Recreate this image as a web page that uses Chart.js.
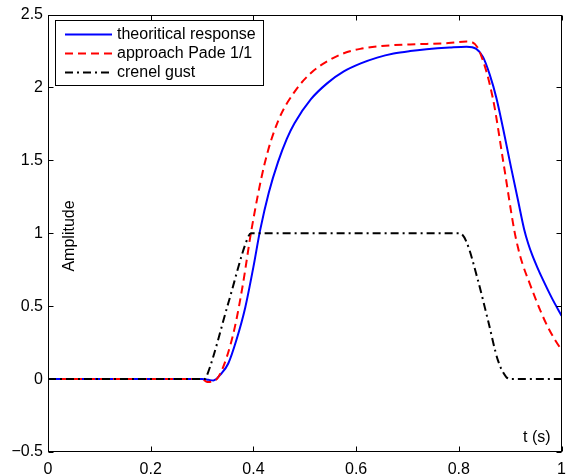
<!DOCTYPE html>
<html>
<head>
<meta charset="utf-8">
<script src="https://cdn.jsdelivr.net/npm/chart.js@4"></script>
<style>
  body { margin: 0; background: #fff; }
  canvas { display: block; }
</style>
</head>
<body>
<canvas id="c" width="574" height="474"></canvas>
<script>
    // values (t in seconds)
    const blueT = [0, 0.30, 0.312, 0.322, 0.338, 0.351, 0.367, 0.384, 0.40, 0.413, 0.43, 0.448, 0.465, 0.48, 0.512, 0.544, 0.576, 0.609, 0.641, 0.673, 0.705, 0.737, 0.782, 0.815, 0.834, 0.847, 0.86, 0.873, 0.903, 0.915, 0.927, 0.935, 0.943, 0.953, 0.963, 0.982, 1.0];
    const blueY = [0, 0, -0.005, -0.01, 0.04, 0.107, 0.27, 0.49, 0.77, 1.02, 1.28, 1.49, 1.648, 1.755, 1.92, 2.03, 2.11, 2.165, 2.205, 2.233, 2.25, 2.262, 2.274, 2.28, 2.265, 2.21, 2.09, 1.93, 1.43, 1.23, 1.03, 0.93, 0.85, 0.765, 0.687, 0.55, 0.435];

    const redT = [0, 0.30, 0.31, 0.322, 0.332, 0.348, 0.364, 0.38, 0.396, 0.422, 0.448, 0.48, 0.512, 0.544, 0.576, 0.608, 0.65, 0.705, 0.78, 0.815, 0.826, 0.84, 0.866, 0.887, 0.908, 0.916, 0.924, 0.937, 0.95, 0.963, 0.975, 0.988, 1.0];
    const redY = [0, 0, -0.02, -0.015, 0.016, 0.15, 0.36, 0.66, 1.02, 1.48, 1.77, 1.97, 2.10, 2.18, 2.235, 2.265, 2.285, 2.295, 2.305, 2.315, 2.31, 2.25, 1.93, 1.48, 1.02, 0.89, 0.79, 0.665, 0.545, 0.435, 0.345, 0.265, 0.20];

    const gustT = [0, 0.305, 0.31, 0.351, 0.388, 0.395, 0.802, 0.815, 0.837, 0.857, 0.876, 0.892, 0.901, 1.0];
    const gustY = [0, 0, 0.03, 0.52, 0.96, 1.0, 1.0, 0.94, 0.68, 0.40, 0.13, 0.016, 0, 0];

    const seriesNames = ['theoritical response', 'approach Pade 1/1', 'crenel gust'];
    const yTicks = [-0.5, 0, 0.5, 1, 1.5, 2, 2.5];
    const xTicks = [0, 0.2, 0.4, 0.6, 0.8, 1];
    const xTitle = 't (s)';
    const yTitle = 'Amplitude';

    const FAMILY = '"Liberation Sans", Arial, Helvetica, sans-serif';
    const FONT = '16px ' + FAMILY;

    function pts(ts, ys) {
        return ts.map((t, i) => ({ x: t, y: ys[i] }));
    }

    // box, inside ticks, axis titles and legend (matlab look)
    const frame = {
        id: 'frame',
        afterDraw(chart) {
            const ctx = chart.ctx;
            const a = chart.chartArea;
            const sx = chart.scales.x, sy = chart.scales.y;
            const L = Math.round(a.left) + 0.5, R = Math.round(a.right) - 0.5;
            const T = Math.round(a.top) + 0.5, B = Math.round(a.bottom) - 0.5;
            ctx.save();
            ctx.strokeStyle = '#000';
            ctx.lineWidth = 1;
            ctx.strokeRect(L, T, R - L, B - T);
            ctx.beginPath();
            xTicks.forEach(v => {
                const px = Math.round(sx.getPixelForValue(v)) + 0.5;
                ctx.moveTo(px, B); ctx.lineTo(px, B - 5);
                ctx.moveTo(px, T); ctx.lineTo(px, T + 5);
            });
            yTicks.forEach(v => {
                const py = Math.round(sy.getPixelForValue(v)) + 0.5;
                ctx.moveTo(L, py); ctx.lineTo(L + 5, py);
                ctx.moveTo(R, py); ctx.lineTo(R - 5, py);
            });
            ctx.stroke();

            ctx.fillStyle = '#000';
            ctx.font = FONT;
            ctx.textAlign = 'left';
            ctx.textBaseline = 'alphabetic';
            ctx.fillText(xTitle, 523, 442);

            ctx.save();
            ctx.translate(74, 236);
            ctx.rotate(-Math.PI / 2);
            ctx.textAlign = 'center';
            ctx.fillText(yTitle, 0, 0);
            ctx.restore();

            // legend
            ctx.fillStyle = '#fff';
            ctx.fillRect(55.5, 20.5, 208, 65);
            ctx.strokeRect(55.5, 20.5, 208, 65);
            const rows = [34, 53, 72];
            chart.data.datasets.forEach((ds, i) => {
                const y = rows[i] + 0.5;
                ctx.save();
                ctx.strokeStyle = ds.borderColor;
                ctx.lineWidth = ds.borderWidth;
                ctx.setLineDash(ds.borderDash || []);
                ctx.beginPath();
                ctx.moveTo(65, y);
                ctx.lineTo(112, y);
                ctx.stroke();
                ctx.restore();
                ctx.fillStyle = '#000';
                ctx.textBaseline = 'middle';
                ctx.fillText(ds.label, 117, y);
            });
            ctx.restore();
        }
    };

    new Chart(document.getElementById('c'), {
        type: 'line',
        data: {
            datasets: [
                { label: seriesNames[0], data: pts(blueT, blueY), borderColor: '#0000ff', borderWidth: 2, order: 3 },
                { label: seriesNames[1], data: pts(redT, redY), borderColor: '#ff0000', borderWidth: 2, borderDash: [8, 5], order: 2 },
                { label: seriesNames[2], data: pts(gustT, gustY), borderColor: '#000000', borderWidth: 2, borderDash: [8, 4, 2, 4], order: 1 }
            ]
        },
        options: {
            responsive: false,
            animation: false,
            layout: { padding: { left: 0, top: 14, right: 8, bottom: 0 } },
            elements: {
                point: { radius: 0 },
                line: { cubicInterpolationMode: 'monotone', fill: false, borderCapStyle: 'butt' }
            },
            plugins: { legend: { display: false }, tooltip: { enabled: false } },
            scales: {
                x: {
                    type: 'linear', min: 0, max: 1,
                    grid: { display: false, drawTicks: false },
                    border: { display: false },
                    afterFit: s => { s.height = 22; },
                    afterBuildTicks: s => { s.ticks = xTicks.map(v => ({ value: v })); },
                    ticks: {
                        padding: 8, color: '#000', maxRotation: 0,
                        font: { family: FAMILY, size: 16 },
                        callback: v => String(+v.toFixed(1))
                    }
                },
                y: {
                    min: -0.5, max: 2.5,
                    grid: { display: false, drawTicks: false },
                    border: { display: false },
                    afterFit: s => { s.width = 48; },
                    afterBuildTicks: s => { s.ticks = yTicks.map(v => ({ value: v })); },
                    ticks: {
                        padding: 5, color: '#000',
                        font: { family: FAMILY, size: 16 },
                        callback: v => v < 0 ? '\u2212' + Math.abs(v) : String(v)
                    }
                }
            }
        },
        plugins: [frame]
    });
</script>
</body>
</html>
